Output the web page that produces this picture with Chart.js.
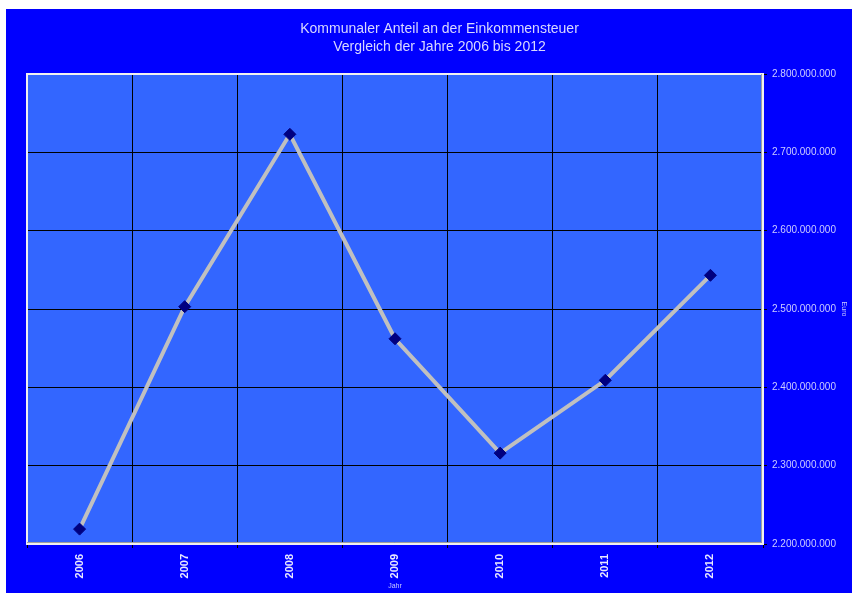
<!DOCTYPE html>
<html>
<head>
<meta charset="utf-8">
<script src="https://cdn.jsdelivr.net/npm/chart.js@4/dist/chart.umd.min.js"></script>
<style>
  html, body { margin: 0; padding: 0; background: #ffffff; }
  #wrap { width: 852px; height: 594px; }
</style>
</head>
<body>
<div id="wrap"><canvas id="c" width="852" height="594"></canvas></div>
<script>
const titleLines = ["Kommunaler Anteil an der Einkommensteuer", "Vergleich der Jahre 2006 bis 2012"];
const years = ["2006", "2007", "2008", "2009", "2010", "2011", "2012"];
const anteilEuro = [2219000000, 2503000000, 2723000000, 2462000000, 2316000000, 2409000000, 2543000000];
const yMin = 2200000000;
const yMax = 2800000000;
const yStep = 100000000;
const xAxisTitle = "Jahr";
const yAxisTitle = "Euro";

const fmt = new Intl.NumberFormat('de-DE', { maximumFractionDigits: 0 });

const bgPlugin = {
  id: 'bg',
  beforeDraw(chart) {
    const ctx = chart.ctx;
    const a = chart.chartArea;
    ctx.save();
    ctx.fillStyle = '#ffffff';
    ctx.fillRect(0, 0, chart.width, chart.height);
    ctx.fillStyle = '#0000ff';
    ctx.fillRect(6, 9, chart.width - 6, chart.height - 10);
    ctx.fillStyle = '#3366ff';
    ctx.fillRect(a.left, a.top, a.right - a.left, a.bottom - a.top);
    ctx.restore();
  },
  afterDatasetsDraw(chart) {},
  beforeDatasetsDraw(chart) {
    const ctx = chart.ctx;
    const a = chart.chartArea;
    ctx.save();
    ctx.strokeStyle = '#f0f0f0';
    ctx.lineWidth = 2;
    ctx.strokeRect(a.left, a.top, a.right - a.left, a.bottom - a.top);
    ctx.strokeStyle = '#a0a0a0';
    ctx.lineWidth = 1;
    ctx.beginPath();
    ctx.moveTo(a.left, a.bottom - 1.5);
    ctx.lineTo(a.right - 1.5, a.bottom - 1.5);
    ctx.lineTo(a.right - 1.5, a.top);
    ctx.stroke();
    ctx.restore();
  }
};

new Chart(document.getElementById('c'), {
  type: 'line',
  data: {
    labels: years,
    datasets: [{
      data: anteilEuro,
      borderColor: '#c0c0c0',
      borderWidth: 4,
      pointStyle: 'rectRot',
      pointRadius: 6,
      pointHoverRadius: 6,
      pointBackgroundColor: '#000080',
      pointBorderColor: '#000080',
      pointBorderWidth: 1,
      tension: 0,
      fill: false
    }]
  },
  options: {
    responsive: false,
    animation: false,
    events: [],
    layout: { padding: { left: 27, top: 0, right: 0, bottom: 0 } },
    plugins: {
      legend: { display: false },
      tooltip: { enabled: false },
      title: {
        display: true,
        text: titleLines,
        color: '#d8d8ff',
        font: { family: 'Liberation Sans', size: 14, weight: 'normal', lineHeight: 1.3 },
        padding: { top: 20, bottom: 17.6 }
      }
    },
    scales: {
      x: {
        type: 'category',
        offset: true,
        grid: {
          offset: true,
          color: '#000000',
          lineWidth: 1,
          drawOnChartArea: true,
          drawTicks: true,
          tickLength: 4,
          tickColor: '#000000'
        },
        border: { display: false },
        ticks: {
          color: '#e8e8ff',
          font: { family: 'Liberation Sans', size: 11, weight: 'bold' },
          minRotation: 90,
          maxRotation: 90,
          padding: 6,
          autoSkip: false
        },
        title: {
          display: true,
          text: xAxisTitle,
          color: '#c8c8ff',
          font: { family: 'Liberation Sans', size: 7 },
          padding: { top: 4, bottom: 4 }
        },
        afterFit(scale) { scale.height = 50; }
      },
      y: {
        position: 'right',
        min: yMin,
        max: yMax,
        grid: {
          color: '#000000',
          lineWidth: 1,
          drawTicks: true,
          tickLength: 4,
          tickColor: '#000000'
        },
        border: { display: false },
        ticks: {
          stepSize: yStep,
          color: '#ccccff',
          font: { family: 'Liberation Sans', size: 10 },
          padding: 5,
          callback: (v) => fmt.format(v)
        },
        title: {
          display: true,
          text: yAxisTitle,
          color: '#c8c8ff',
          font: { family: 'Liberation Sans', size: 7 },
          padding: { top: 4, bottom: 4 }
        },
        afterFit(scale) { scale.width = 89; }
      }
    }
  },
  plugins: [bgPlugin]
});
</script>
</body>
</html>
